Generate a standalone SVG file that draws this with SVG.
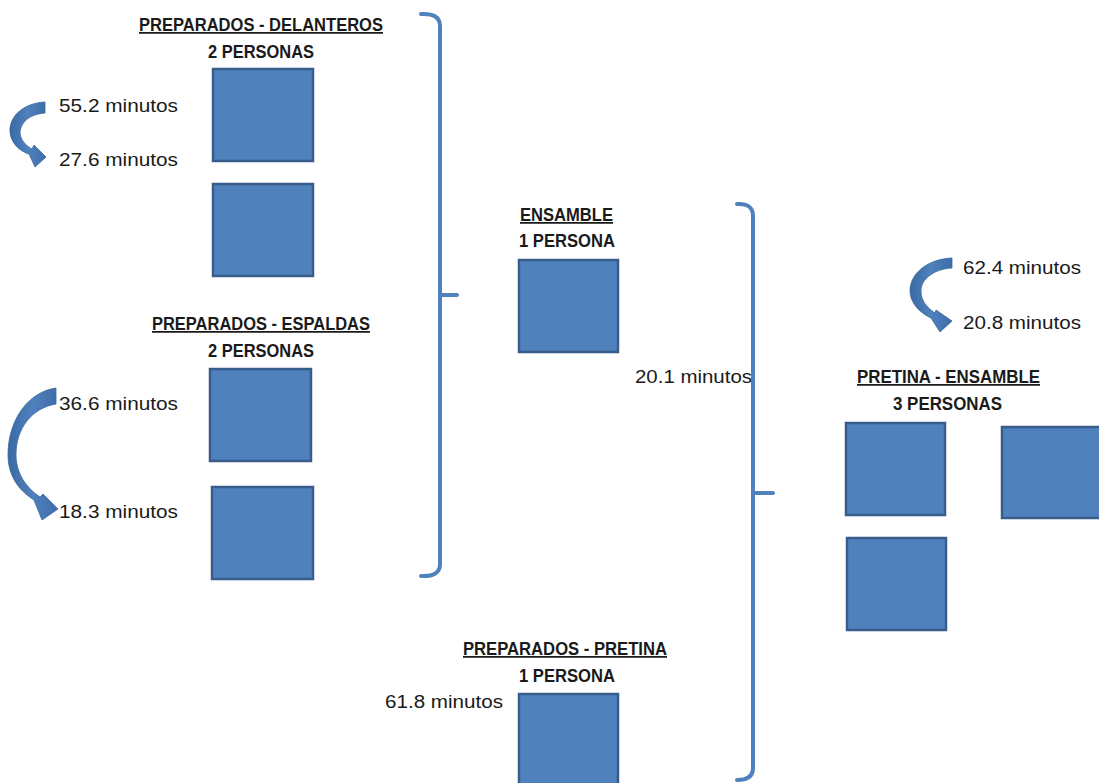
<svg xmlns="http://www.w3.org/2000/svg" width="1099" height="783" viewBox="0 0 1099 783">
<defs>
<style>
.box{fill:#4F81BD;stroke:#385D8A;stroke-width:2.5}
.title{font-family:"Liberation Sans",Arial,sans-serif;font-weight:bold;font-size:17.5px;fill:#1a1a1a;text-anchor:middle;text-decoration:underline}
.sub{font-family:"Liberation Sans",Arial,sans-serif;font-weight:bold;font-size:17.5px;fill:#1a1a1a;text-anchor:middle}
.t{font-family:"Liberation Sans",Arial,sans-serif;font-size:18px;fill:#1a1a1a}
.br{fill:none;stroke:#4F81BD;stroke-width:4;stroke-linecap:round;stroke-linejoin:round}
.arr{fill:url(#ag);stroke:#3A67A0;stroke-width:0.8}
</style>
<linearGradient id="ag" x1="0" y1="0" x2="1" y2="0">
<stop offset="0" stop-color="#3B6AA3"/>
<stop offset="0.5" stop-color="#4F81BD"/>
<stop offset="1" stop-color="#3E6DA8"/>
</linearGradient>
</defs>
<rect width="1099" height="783" fill="#ffffff"/>

<g id="delanteros">
<text class="title" x="261" y="31" textLength="244" lengthAdjust="spacingAndGlyphs">PREPARADOS - DELANTEROS</text>
<text class="sub" x="261" y="58" textLength="106" lengthAdjust="spacingAndGlyphs">2 PERSONAS</text>
<rect class="box" x="213" y="69" width="100" height="92"/>
<rect class="box" x="213" y="184" width="100" height="92"/>
<text class="t" x="59" y="112" textLength="119" lengthAdjust="spacingAndGlyphs">55.2 minutos</text>
<text class="t" x="59" y="166" textLength="119" lengthAdjust="spacingAndGlyphs">27.6 minutos</text>
</g>

<g id="espaldas">
<text class="title" x="261" y="330" textLength="218" lengthAdjust="spacingAndGlyphs">PREPARADOS - ESPALDAS</text>
<text class="sub" x="261" y="357" textLength="106" lengthAdjust="spacingAndGlyphs">2 PERSONAS</text>
<rect class="box" x="210" y="369" width="101" height="92"/>
<rect class="box" x="212" y="487" width="101" height="92"/>
<text class="t" x="59" y="410" textLength="119" lengthAdjust="spacingAndGlyphs">36.6 minutos</text>
<text class="t" x="59" y="518" textLength="119" lengthAdjust="spacingAndGlyphs">18.3 minutos</text>
</g>

<g id="ensamble">
<text class="title" x="566.5" y="221" textLength="93" lengthAdjust="spacingAndGlyphs">ENSAMBLE</text>
<text class="sub" x="567" y="247" textLength="96" lengthAdjust="spacingAndGlyphs">1 PERSONA</text>
<rect class="box" x="519" y="260" width="99" height="92"/>
<text class="t" x="635" y="383" textLength="117" lengthAdjust="spacingAndGlyphs">20.1 minutos</text>
</g>

<g id="pretina">
<text class="title" x="565" y="655" textLength="204" lengthAdjust="spacingAndGlyphs">PREPARADOS - PRETINA</text>
<text class="sub" x="567" y="682" textLength="96" lengthAdjust="spacingAndGlyphs">1 PERSONA</text>
<rect class="box" x="519" y="694" width="99" height="100"/>
<text class="t" x="385" y="708" textLength="118" lengthAdjust="spacingAndGlyphs">61.8 minutos</text>
</g>

<g id="pretina-ensamble">
<text class="title" x="948.5" y="383" textLength="183" lengthAdjust="spacingAndGlyphs">PRETINA - ENSAMBLE</text>
<text class="sub" x="947.5" y="410" textLength="109" lengthAdjust="spacingAndGlyphs">3 PERSONAS</text>
<rect class="box" x="846" y="423" width="99" height="92"/>
<rect class="box" x="1002" y="427" width="100" height="91"/>
<rect class="box" x="847" y="538" width="99" height="92"/>
<text class="t" x="963" y="274" textLength="118" lengthAdjust="spacingAndGlyphs">62.4 minutos</text>
<text class="t" x="963" y="329" textLength="118" lengthAdjust="spacingAndGlyphs">20.8 minutos</text>
</g>

<g id="connectors">
<path class="br" d="M421,14 Q440,13 440,26 L440,564 Q440,577 421,576"/>
<path class="br" d="M440,295 L457,295"/>
<path class="br" d="M737,204 Q753,203 753,216 L753,768 Q753,780 737,780"/>
<path class="br" d="M753,493 L773,493"/>
<path class="arr" d="M45,102 C25,103 9,115 10,132 C11,143 19,151 29,154 L35,167 L46,157 L34,145 L32,149 C25,145 20,139 20,132 C21,121 31,114 45,113 Z"/>
<path class="arr" d="M56,388 C28,392 8,420 8,455 C8,475 18,490 34,500 L42,520 L58,509 L43,494 L40,497 C25,487 16,472 16,455 C16,428 32,408 56,404 Z"/>
<path class="arr" d="M952,258 C928,259 910,273 910,291 C910,303 920,313 931,318 L940,332 L952,321 L936,310 L935,313 C926,307 921,300 921,291 C921,279 934,269 952,268 Z"/>
</g>
</svg>
